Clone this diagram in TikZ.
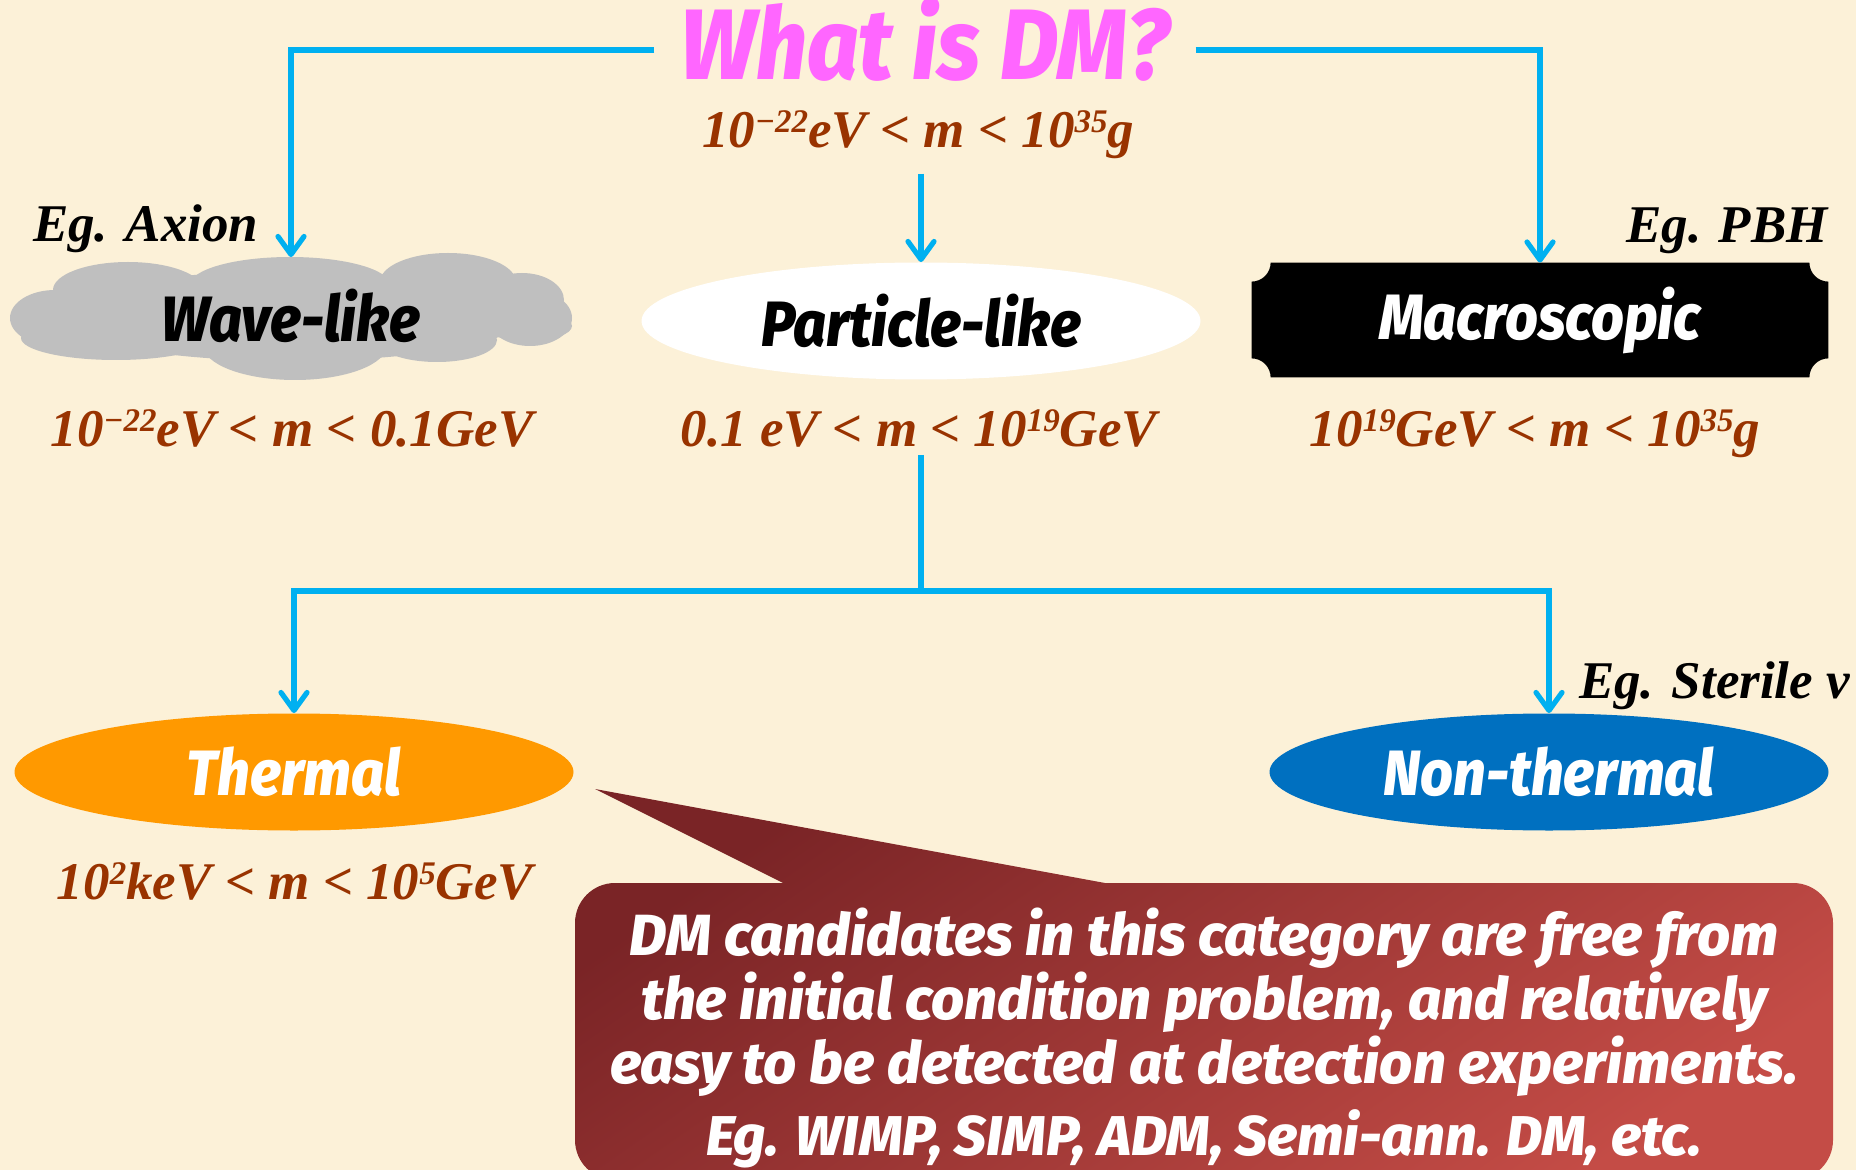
\documentclass[tikz,border=0pt]{standalone}
\usepackage{fontspec}
\setmainfont{Liberation Serif}
\newfontfamily\popfont[FakeStretch=0.9,BoldItalicFont={Fira Sans ExtraBold Italic}]{Fira Sans}
\newfontfamily\notefont[BoldItalicFont={Fira Sans ExtraBold Italic}]{Fira Sans}
\usepackage{xcolor}
\usepackage{tikz}
\usetikzlibrary{arrows.meta,backgrounds,positioning,shapes.geometric,calc}
\definecolor{paper}{RGB}{252,241,216}
\definecolor{flow}{RGB}{0,176,240}
\definecolor{dmpink}{RGB}{255,102,255}
\definecolor{massbrown}{RGB}{153,51,0}
\definecolor{cloudgray}{RGB}{191,191,191}
\definecolor{thermorange}{RGB}{255,153,0}
\definecolor{nonthermblue}{RGB}{0,112,192}
\definecolor{calltop}{RGB}{122,36,38}
\definecolor{callbot}{RGB}{196,76,70}
\newcommand\powr[1]{\raisebox{7.5pt}{\fontsize{16.5}{17}\selectfont#1}}
\begin{document}
\begin{tikzpicture}[x=0.5pt,y=0.5pt,
        flowline/.style={draw=flow,line width=2.6pt,-{Straight Barb[length=9pt,width=13pt,line cap=round,line join=round]}},
        kind/.style={ellipse,inner sep=0pt,minimum width=279.5pt,minimum height=58.5pt,
            font=\popfont\bfseries\itshape\fontsize{32}{38}\selectfont},
        massrange/.style={anchor=base,text=massbrown,font=\bfseries\itshape\fontsize{26.5}{32}\selectfont},
        eg/.style={font=\bfseries\itshape\fontsize{26.5}{30}\selectfont}]
    \useasboundingbox (0,0) rectangle (1856,-1170);
    \clip (0,0) rectangle (1856,-1170);
    \begin{scope}[on background layer]
        \fill[paper] (0,0) rectangle (1856,-1170);
    \end{scope}
    \node[text=dmpink,anchor=base,inner xsep=13pt,inner ysep=1pt,font=\popfont\bfseries\itshape\fontsize{50}{56}\selectfont] (title) at (925,-80) {What is DM?};
    \node[massrange,inner ysep=1pt] (mall) at (918,-148) {10\powr{−22}eV < m < 10\powr{35}g};
    \foreach \cx/\cy/\rx/\ry in {291/316/235/45, 128/290/75/28, 290/285/100/28, 448/282/68/29, 522/300/42/27,
            530/318/42/28, 528/326/44/15, 437/340/60/22, 295/345/92/35, 116/338/95/22, 55/318/45/28}
        \fill[cloudgray] (\cx,-\cy) ellipse[x radius=\rx,y radius=\ry];
    \node[kind] (wave) at (291,-316) {Wave-like};
    \node[kind,fill=white] (particle) at (921,-321) {Particle-like};
    \node[inner sep=0pt,minimum width=288pt,minimum height=57pt,text=white,
        font=\popfont\bfseries\itshape\fontsize{32}{38}\selectfont] (macro) at (1540,-320) {Macroscopic};
    \begin{scope}[on background layer]
        \fill[black] ([xshift=9.5pt]macro.north west) -- ([xshift=-9.5pt]macro.north east)
            arc[start angle=180,end angle=270,radius=9.5pt] -- ([yshift=9.5pt]macro.south east)
            arc[start angle=90,end angle=180,radius=9.5pt] -- ([xshift=9.5pt]macro.south west)
            arc[start angle=0,end angle=90,radius=9.5pt] -- ([yshift=-9.5pt]macro.north west)
            arc[start angle=270,end angle=360,radius=9.5pt] -- cycle;
    \end{scope}
    \node[eg,anchor=base west] (egaxion) at (26,-242) {Eg. Axion};
    \node[eg,anchor=base east] (egpbh) at (1835,-243) {Eg. PBH};
    \node[massrange] (wrange) at (292,-447) {10\powr{−22}eV < m < 0.1GeV};
    \node[massrange] (prange) at (919,-447) {0.1 eV < m < 10\powr{19}GeV};
    \node[massrange] (mrange) at (1535,-447) {10\powr{19}GeV < m < 10\powr{35}g};
    \node[kind,fill=thermorange,text=white] (thermal) at (294,-772) {Thermal};
    \node[kind,fill=nonthermblue,text=white] (nonthermal) at (1549,-772) {Non-thermal};
    \node[massrange] (trange) at (295,-899) {10\powr{2}keV < m < 10\powr{5}GeV};
    \node[eg,anchor=base west] (egsterile) at (1572,-698) {Eg. Sterile ν};
    \coordinate (split) at (921,-591);
    \draw[flowline] ([yshift=-5pt]title.west) -| (wave.north);
    \draw[flowline] ([yshift=-5pt]title.east) -| (macro.north);
    \draw[flowline] ([yshift=-6pt]mall.south -| particle.north) -- (particle.north);
    \draw[draw=flow,line width=2.6pt] (prange.south -| split) -- (split);
    \draw[flowline] (split) -| (thermal.north);
    \draw[flowline] (split) -| (nonthermal.north);
    \shade[top color=calltop,bottom color=callbot,shading angle=35]
        [rounded corners=20pt] (575,-883) rectangle (1833,-1180)
        [sharp corners] (595,-789) -- (783,-883) -- (1105,-883) -- cycle;
    \node[anchor=north,inner sep=0pt,align=center,text=white,
        font=\notefont\bfseries\itshape\fontsize{29}{32}\selectfont] (note) at (1204,-908)
        {DM candidates in this category are free from\\the initial condition problem, and relatively\\easy to be detected at detection experiments.\\[4pt]{\fontsize{28}{32}\selectfont Eg. WIMP, SIMP, ADM, Semi-ann. DM, etc.}};
\end{tikzpicture}
\end{document}
